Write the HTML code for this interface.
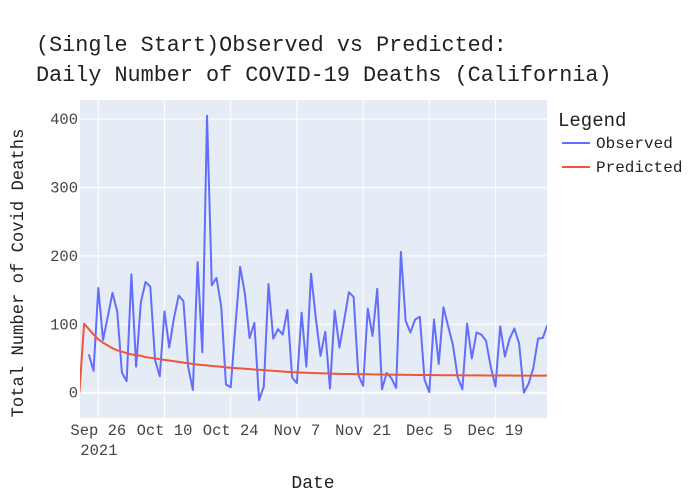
<!DOCTYPE html>
<html><head><meta charset="utf-8"><style>
body{margin:0;background:#fff;}
svg{display:block;font-family:"Liberation Mono",monospace;}
</style></head><body>
<svg id="c" width="700" height="500">
<rect x="0" y="0" width="700" height="500" fill="#fff"/>
<text x="36" y="51" font-size="21.8" fill="#222">(Single Start)Observed vs Predicted:</text>
<text x="36" y="81" font-size="21.8" fill="#222">Daily Number of COVID-19 Deaths (California)</text>
<g id="plot"></g>
<text x="313" y="488" font-size="18" fill="#222" text-anchor="middle">Date</text>
<text transform="translate(23,273) rotate(-90)" font-size="17.2" fill="#222" text-anchor="middle">Total Number of Covid Deaths</text>
<text x="558" y="126" font-size="19" fill="#222">Legend</text>
<g>
<line x1="562" y1="143" x2="590" y2="143" stroke="#636efa" stroke-width="2"/>
<text x="596" y="148" font-size="16" fill="#222">Observed</text></g>
<g>
<line x1="562" y1="167" x2="590" y2="167" stroke="#ef553b" stroke-width="2"/>
<text x="596" y="172" font-size="16" fill="#222">Predicted</text></g>
</svg>
<script>
const observedStartDay = -2;
const observedValues = [56,32,153,77,111,146,119,29,17,173,38,132,162,155,48,24,119,66,109,142,134,38,4,191,59,405,157,168,126,12,8,97,184,145,80,102,-11,9,159,79,93,85,121,22,14,117,38,
174,109,54,89,6,120,66,106,147,140,26,10,123,83,152,5,29,21,7,206,105,88,107,111,19,1,107,42,125,97,70,23,5,101,50,88,85,76,38,9,97,53,79,94,72,0,13,36,79,80,99];
const predictedStartDay = -4;
const predictedValues = [0,101,93,85,78,73,69,65,62,60,58,56,55,54,52,51,50,49,48,47,46,45,44,43,42,41,40.5,40,39,38.5,38,37,36.5,36,35.5,35,34.5,34,33.5,33,32.5,32,31.5,31,30.5,30,29.7,29.4,29.1,28.8,
28.6,28.4,28.2,28,27.8,27.6,27.4,27.3,27.2,27.1,27,26.9,26.8,26.7,26.6,26.5,26.4,26.3,26.2,26.1,26,25.9,25.9,25.8,25.8,25.7,25.7,25.6,25.6,25.5,25.5,25.4,25.4,25.3,25.3,25.3,25.2,25.2,25.2,25.1,25.1,25.1,25,25,25,25,25,25,25,25];
const yTicks = [0,100,200,300,400];
const xTickLabels = ["Sep 26","Oct 10","Oct 24","Nov 7","Nov 21","Dec 5","Dec 19"];
const xTickDays = [0,14,28,42,56,70,84];

const L=80,R=547,T=100,B=418;
const d0=-3.87,d1=94.9,v0=-37,v1=428;
const X=d=>L+(d-d0)/(d1-d0)*(R-L);
const Y=v=>B-(v-v0)/(v1-v0)*(B-T);
const NS="http://www.w3.org/2000/svg";
const g=document.getElementById('plot');
function mk(t,a,p){const e=document.createElementNS(NS,t);for(const k in a)e.setAttribute(k,a[k]);(p||g).appendChild(e);return e;}
const bg=mk('rect',{x:L,y:T,width:R-L,height:B-T,fill:'#e5ecf6'});


yTicks.forEach(v=>{
  const ln=mk('line',{x1:L,x2:R,y1:Y(v),y2:Y(v),stroke:'#fff','stroke-width':v===0?2:1});
  
  
  const t=mk('text',{x:L-2,y:Y(v)+5,'font-size':15.5,fill:'#444','text-anchor':'end'});
  t.textContent=v;
  
  
});
xTickDays.forEach((d,i)=>{
  const ln=mk('line',{x1:X(d),x2:X(d),y1:T,y2:B,stroke:'#fff','stroke-width':1});
  
  
  const t=mk('text',{x:X(d),y:435,'font-size':15.5,fill:'#444','text-anchor':'middle'});
  t.textContent=xTickLabels[i];
  
  
});
const yr=mk('text',{x:X(0)-18,y:455,'font-size':15.5,fill:'#444'});
yr.textContent='2021';


const cp=mk('clipPath',{id:'cp'});mk('rect',{x:L,y:T,width:R-L,height:B-T},cp);
function line(vals,start,col,name){
  const pts=vals.map((v,i)=>X(start+i).toFixed(2)+','+Y(v).toFixed(2)).join(' ');
  const p=mk('polyline',{points:pts,fill:'none',stroke:col,'stroke-width':2,'stroke-linejoin':'round','clip-path':'url(#cp)'});
  
  
}
line(observedValues,observedStartDay,'#636efa','observed-line');
line(predictedValues,predictedStartDay,'#ef553b','predicted-line');
</script>
</body></html>
